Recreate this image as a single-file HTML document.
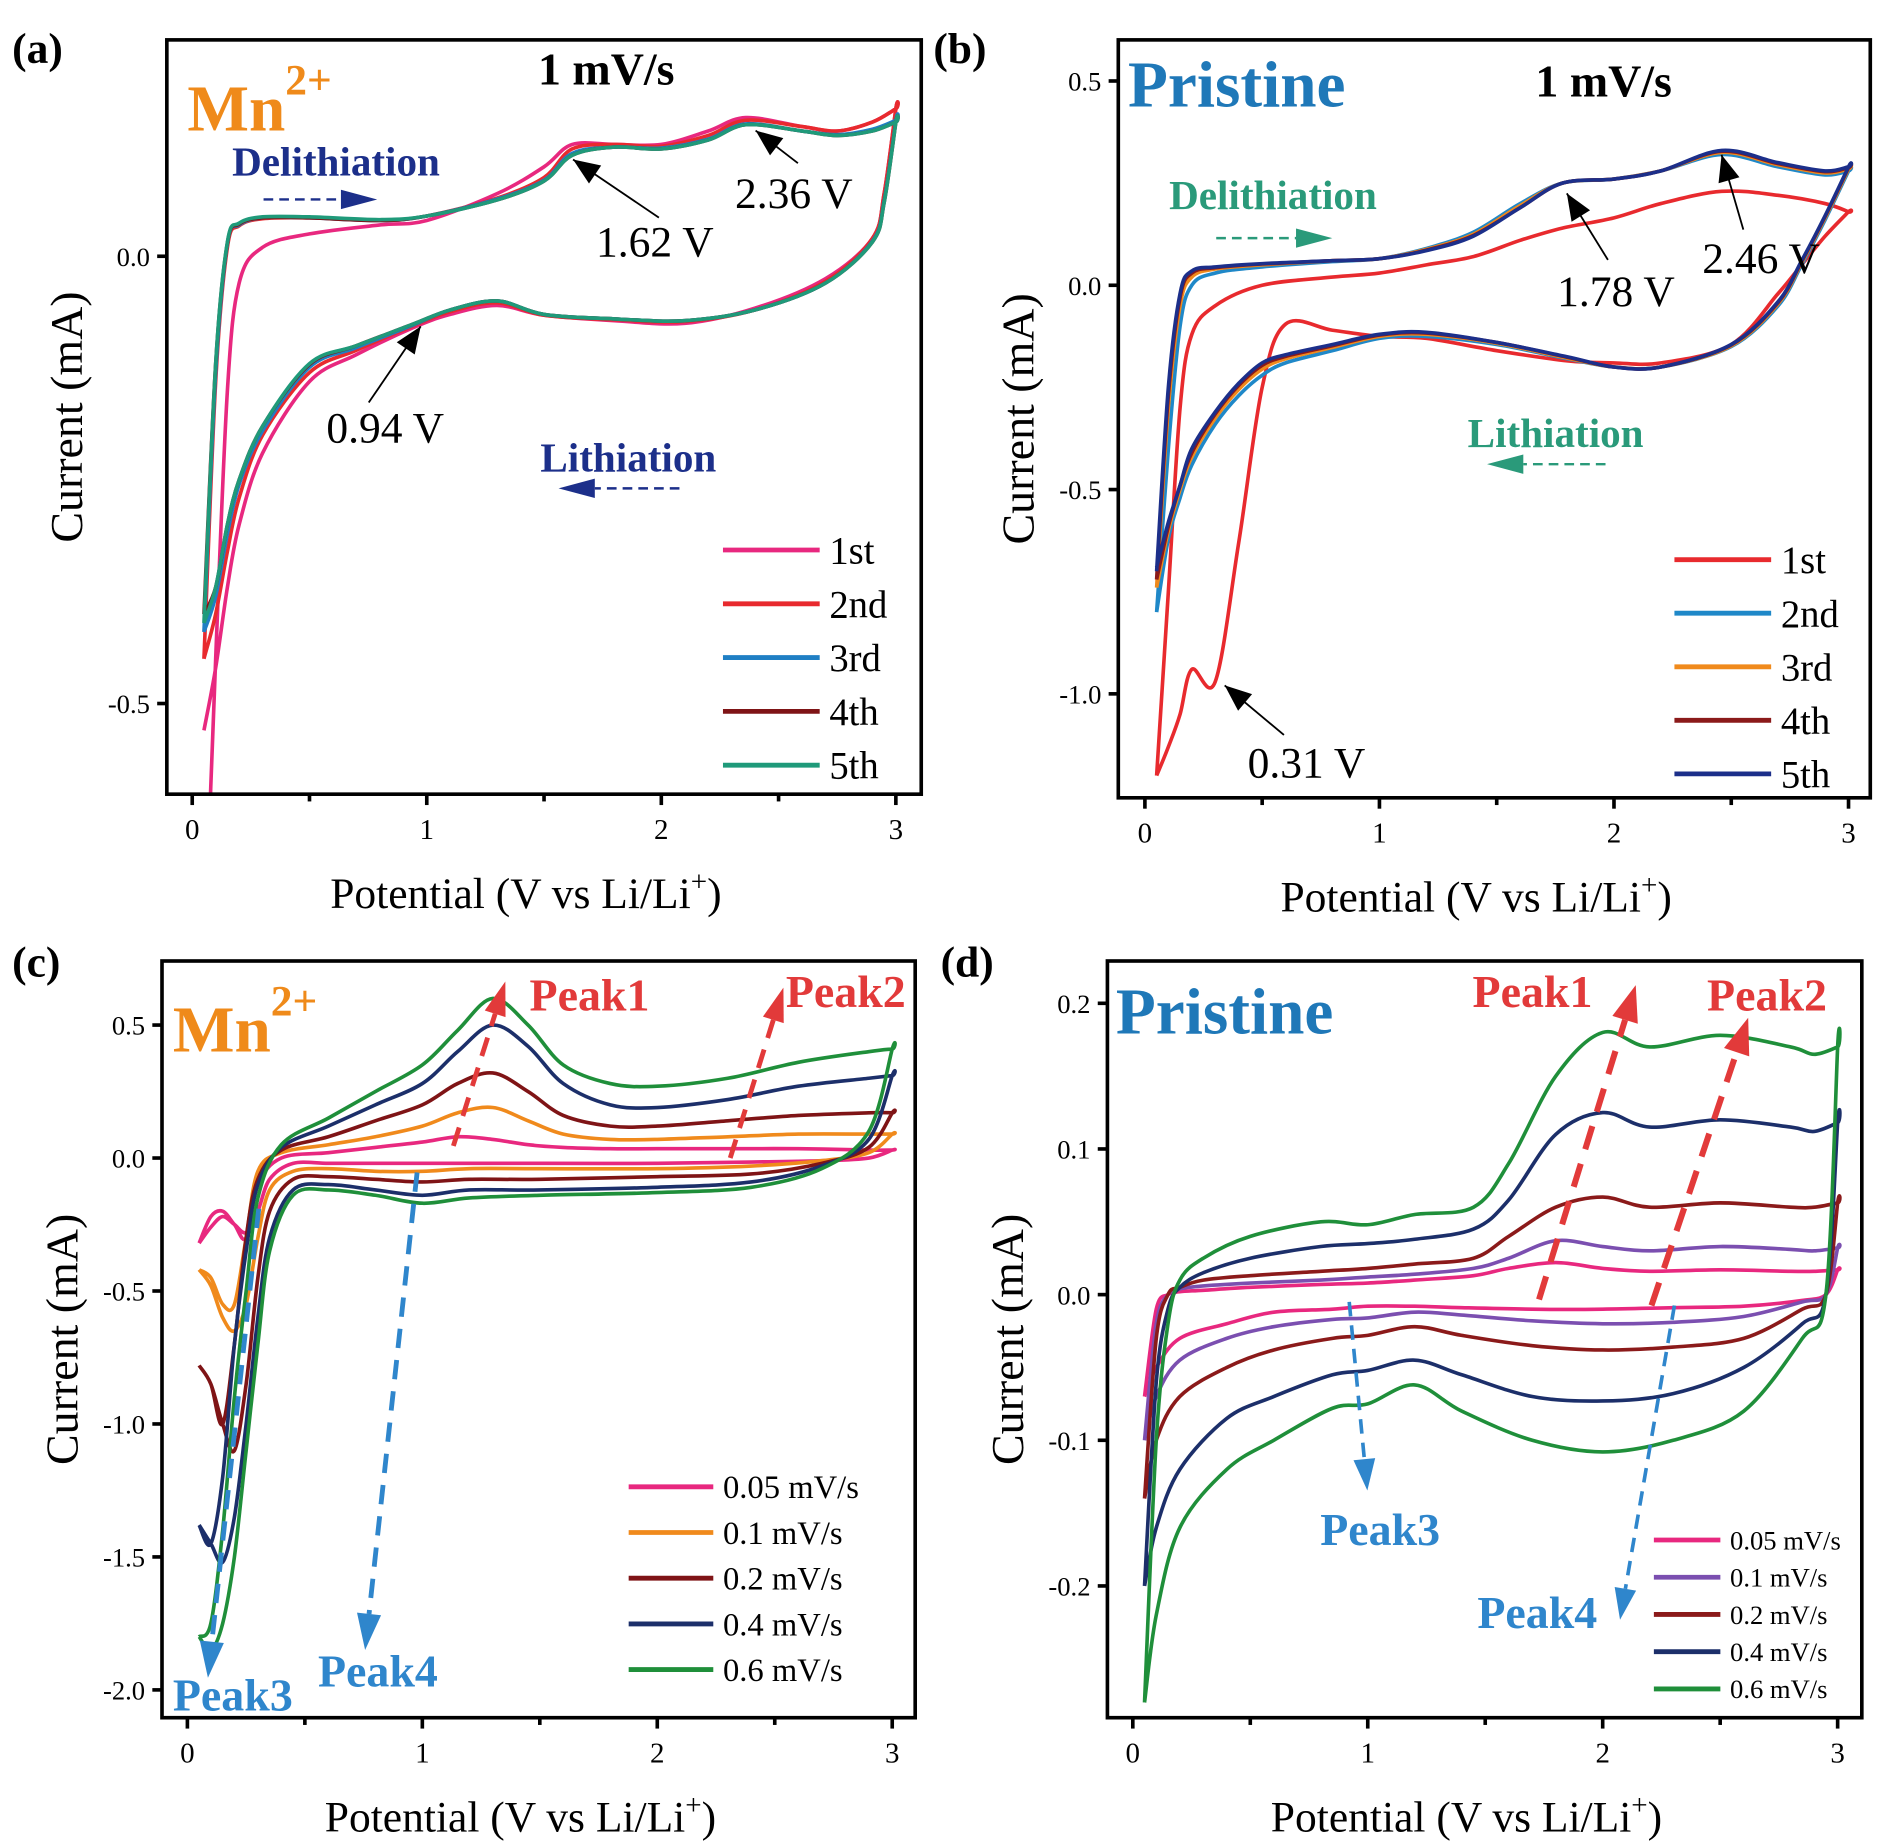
<!DOCTYPE html>
<html><head><meta charset="utf-8"><style>
html,body{margin:0;padding:0;background:#fff;}
svg{display:block;font-family:"Liberation Serif","Times New Roman",serif;}
svg text{font-family:"Liberation Serif","Times New Roman",serif;}
</style></head><body>
<svg id="fig" width="1886" height="1841" viewBox="0 0 1560 1523" preserveAspectRatio="none" xmlns="http://www.w3.org/2000/svg" font-family="Liberation Serif, Times New Roman, serif">
<g id="root" font-family="Liberation Serif, Times New Roman, serif"></g>
</svg>
<script>
// ---------- Panel (a) data ----------
const aVUp=[0.05,0.1,0.15,0.2,0.3,0.5,0.8,1.0,1.3,1.5,1.62,1.8,2.0,2.2,2.36,2.6,2.75,2.9,3.0];
const aVDown=[3.0,2.95,2.9,2.7,2.4,2.1,1.8,1.5,1.3,1.1,0.94,0.7,0.5,0.3,0.2,0.15,0.1,0.05];
const aNames=["1st","2nd","3rd","4th","5th"];
const aUp1=[-0.8,-0.45,-0.15,-0.03,0.01,0.025,0.035,0.04,0.07,0.1,0.125,0.125,0.125,0.14,0.155,0.145,0.14,0.15,0.165];
const aDn1=[0.165,0.07,0.02,-0.025,-0.058,-0.075,-0.072,-0.066,-0.055,-0.065,-0.08,-0.11,-0.14,-0.22,-0.3,-0.37,-0.46,-0.53];
const aUp2=[-0.45,-0.14,0.01,0.034,0.042,0.043,0.04,0.045,0.065,0.088,0.12,0.125,0.123,0.135,0.152,0.145,0.14,0.15,0.165];
const aDn2=[0.165,0.07,0.02,-0.028,-0.06,-0.073,-0.071,-0.066,-0.052,-0.062,-0.078,-0.105,-0.13,-0.2,-0.27,-0.33,-0.4,-0.45];
const aUp3=[-0.42,-0.13,0.014,0.035,0.043,0.043,0.04,0.045,0.064,0.085,0.115,0.122,0.121,0.131,0.148,0.14,0.136,0.142,0.152];
const aDn3=[0.152,0.062,0.017,-0.03,-0.06,-0.072,-0.07,-0.065,-0.05,-0.06,-0.077,-0.102,-0.124,-0.195,-0.255,-0.31,-0.38,-0.42];
const aUp4=[-0.4,-0.12,0.015,0.036,0.043,0.043,0.04,0.045,0.063,0.084,0.113,0.122,0.12,0.13,0.147,0.14,0.135,0.14,0.15];
const aDn4=[0.15,0.06,0.016,-0.03,-0.06,-0.072,-0.07,-0.065,-0.05,-0.06,-0.076,-0.1,-0.121,-0.19,-0.25,-0.3,-0.37,-0.4];
const aUp5=[-0.41,-0.12,0.016,0.037,0.044,0.044,0.041,0.045,0.063,0.084,0.113,0.122,0.12,0.13,0.147,0.14,0.135,0.14,0.15];
const aDn5=[0.15,0.06,0.016,-0.03,-0.06,-0.072,-0.07,-0.065,-0.05,-0.06,-0.076,-0.1,-0.12,-0.19,-0.25,-0.3,-0.37,-0.41];
const aYTicks=[0.0,-0.5];
// ---------- Panel (b) data ----------
const bVUp=[0.05,0.1,0.15,0.2,0.3,0.5,0.8,1.0,1.2,1.4,1.6,1.78,2.0,2.2,2.46,2.7,2.9,3.0];
const bVDown=[3.0,2.9,2.8,2.7,2.5,2.2,2.0,1.8,1.5,1.2,1.0,0.8,0.6,0.5,0.4,0.3,0.2,0.15,0.1,0.05];
const bNames=["1st","2nd","3rd","4th","5th"];
const bUp1=[-1.2,-0.75,-0.3,-0.12,-0.05,0.0,0.02,0.03,0.05,0.07,0.11,0.14,0.165,0.2,0.23,0.22,0.2,0.18];
const bDn1=[0.18,0.12,0.05,-0.02,-0.145,-0.19,-0.19,-0.185,-0.16,-0.13,-0.125,-0.11,-0.095,-0.25,-0.63,-0.97,-0.94,-1.05,-1.13,-1.2];
const bUp2=[-0.8,-0.4,-0.1,0.0,0.03,0.045,0.058,0.065,0.09,0.13,0.2,0.25,0.26,0.28,0.32,0.29,0.27,0.28];
const bDn2=[0.28,0.16,0.05,-0.05,-0.15,-0.2,-0.2,-0.18,-0.145,-0.125,-0.13,-0.16,-0.19,-0.22,-0.27,-0.34,-0.44,-0.52,-0.62,-0.8];
const bUp3=[-0.74,-0.3,-0.05,0.02,0.04,0.05,0.06,0.065,0.088,0.125,0.195,0.25,0.26,0.28,0.325,0.295,0.275,0.285];
const bDn3=[0.285,0.165,0.055,-0.045,-0.148,-0.2,-0.2,-0.178,-0.142,-0.12,-0.125,-0.152,-0.18,-0.205,-0.255,-0.325,-0.42,-0.5,-0.6,-0.74];
const bUp4=[-0.72,-0.27,-0.03,0.03,0.043,0.052,0.06,0.065,0.086,0.122,0.19,0.25,0.26,0.28,0.328,0.298,0.278,0.288];
const bDn4=[0.288,0.168,0.058,-0.042,-0.146,-0.2,-0.2,-0.176,-0.14,-0.117,-0.122,-0.148,-0.174,-0.196,-0.245,-0.315,-0.41,-0.49,-0.59,-0.72];
const bUp5=[-0.7,-0.25,-0.02,0.035,0.045,0.053,0.06,0.065,0.085,0.12,0.19,0.25,0.26,0.28,0.33,0.3,0.28,0.29];
const bDn5=[0.29,0.17,0.06,-0.04,-0.145,-0.2,-0.2,-0.175,-0.14,-0.115,-0.12,-0.145,-0.17,-0.19,-0.24,-0.31,-0.4,-0.49,-0.58,-0.69];
const bYTicks=[0.5,0.0,-0.5,-1.0];
// ---------- Panel (c) data ----------
const cVUp=[0.05,0.1,0.15,0.2,0.25,0.3,0.4,0.6,0.8,1.0,1.15,1.3,1.45,1.6,1.8,2.0,2.3,2.6,2.9,3.0];
const cVDown=[3.0,2.9,2.7,2.4,2.0,1.5,1.2,1.0,0.8,0.6,0.45,0.35,0.3,0.25,0.2,0.15,0.1,0.05];
const cNames=["0.05 mV/s","0.1 mV/s","0.2 mV/s","0.4 mV/s","0.6 mV/s"];
const cUp1=[-0.32,-0.22,-0.2,-0.25,-0.3,-0.1,0.0,0.02,0.04,0.06,0.08,0.07,0.05,0.04,0.035,0.035,0.035,0.035,0.03,0.03];
const cDn1=[0.03,0.0,-0.01,-0.015,-0.02,-0.02,-0.02,-0.02,-0.02,-0.02,-0.02,-0.08,-0.2,-0.28,-0.25,-0.22,-0.26,-0.32];
const cUp2=[-0.42,-0.45,-0.55,-0.55,-0.3,-0.05,0.02,0.05,0.08,0.12,0.17,0.19,0.14,0.09,0.07,0.07,0.08,0.09,0.09,0.09];
const cDn2=[0.09,0.02,-0.01,-0.03,-0.04,-0.04,-0.04,-0.05,-0.05,-0.04,-0.05,-0.12,-0.3,-0.55,-0.65,-0.6,-0.48,-0.42];
const cUp3=[-0.78,-0.85,-1.0,-0.7,-0.3,-0.08,0.03,0.08,0.14,0.2,0.28,0.32,0.25,0.16,0.12,0.12,0.14,0.16,0.17,0.17];
const cDn3=[0.17,0.04,-0.02,-0.06,-0.07,-0.08,-0.08,-0.09,-0.08,-0.07,-0.08,-0.2,-0.45,-0.85,-1.1,-1.0,-0.85,-0.78];
const cUp4=[-1.38,-1.45,-1.2,-0.7,-0.35,-0.1,0.04,0.12,0.2,0.28,0.4,0.5,0.42,0.28,0.2,0.19,0.22,0.27,0.3,0.31];
const cDn4=[0.31,0.07,-0.03,-0.09,-0.11,-0.12,-0.12,-0.14,-0.12,-0.1,-0.12,-0.3,-0.6,-1.0,-1.35,-1.52,-1.45,-1.38];
const cUp5=[-1.8,-1.75,-1.4,-0.9,-0.5,-0.15,0.05,0.15,0.25,0.35,0.48,0.6,0.5,0.35,0.28,0.27,0.3,0.36,0.4,0.41];
const cDn5=[0.41,0.1,-0.04,-0.11,-0.13,-0.14,-0.15,-0.17,-0.14,-0.12,-0.14,-0.35,-0.7,-1.1,-1.5,-1.75,-1.85,-1.8];
const cYTicks=[0.5,0.0,-0.5,-1.0,-1.5,-2.0];
// ---------- Panel (d) data ----------
const dVUp=[0.05,0.1,0.15,0.2,0.3,0.5,0.8,1.0,1.2,1.45,1.6,1.8,2.0,2.2,2.5,2.8,2.9,3.0];
const dVDown=[3.0,2.95,2.85,2.6,2.3,2.0,1.7,1.4,1.2,1.0,0.85,0.6,0.4,0.2,0.1,0.05];
const dNames=["0.05 mV/s","0.1 mV/s","0.2 mV/s","0.4 mV/s","0.6 mV/s"];
const dUp1=[-0.07,-0.01,0.0,0.002,0.003,0.005,0.007,0.008,0.01,0.013,0.018,0.022,0.018,0.016,0.017,0.016,0.016,0.017];
const dDn1=[0.017,0.0,-0.004,-0.008,-0.009,-0.01,-0.01,-0.009,-0.008,-0.008,-0.01,-0.012,-0.02,-0.03,-0.05,-0.07];
const dUp2=[-0.1,-0.02,0.0,0.004,0.006,0.008,0.01,0.012,0.014,0.018,0.025,0.037,0.033,0.03,0.033,0.031,0.03,0.032];
const dDn2=[0.032,0.0,-0.005,-0.015,-0.019,-0.02,-0.018,-0.014,-0.012,-0.016,-0.017,-0.022,-0.03,-0.045,-0.07,-0.1];
const dUp3=[-0.14,-0.03,0.0,0.005,0.01,0.013,0.016,0.018,0.021,0.025,0.04,0.06,0.067,0.06,0.063,0.06,0.06,0.063];
const dDn3=[0.063,0.0,-0.01,-0.03,-0.036,-0.038,-0.035,-0.028,-0.022,-0.028,-0.03,-0.038,-0.05,-0.07,-0.1,-0.14];
const dUp4=[-0.2,-0.06,-0.01,0.005,0.015,0.025,0.033,0.035,0.038,0.045,0.065,0.11,0.125,0.115,0.12,0.115,0.112,0.118];
const dDn4=[0.118,0.0,-0.02,-0.05,-0.068,-0.073,-0.07,-0.055,-0.045,-0.052,-0.055,-0.07,-0.085,-0.12,-0.16,-0.2];
const dUp5=[-0.28,-0.1,-0.02,0.01,0.025,0.04,0.05,0.048,0.055,0.06,0.09,0.15,0.18,0.17,0.178,0.17,0.165,0.17];
const dDn5=[0.17,0.0,-0.03,-0.08,-0.1,-0.108,-0.1,-0.08,-0.062,-0.075,-0.078,-0.1,-0.12,-0.16,-0.22,-0.28];
const dYTicks=[0.2,0.1,0.0,-0.1,-0.2];
const xTicks=[0,1,2,3];

const NS="http://www.w3.org/2000/svg";
const FF='Liberation Serif, Times New Roman, serif';
const root=document.getElementById('root');
function el(tag,attrs,parent,txt){const e=document.createElementNS(NS,tag);for(const k in attrs)e.setAttribute(k,attrs[k]);if(tag==='text')e.setAttribute('font-family',FF);if(txt!==undefined)e.textContent=txt;(parent||root).appendChild(e);return e;}
function smooth(pts){let d="M"+pts[0][0].toFixed(1)+","+pts[0][1].toFixed(1);for(let i=0;i<pts.length-1;i++){const p0=pts[i-1]||pts[i],p1=pts[i],p2=pts[i+1],p3=pts[i+2]||p2;const c1=[p1[0]+(p2[0]-p0[0])/6,p1[1]+(p2[1]-p0[1])/6],c2=[p2[0]-(p3[0]-p1[0])/6,p2[1]-(p3[1]-p1[1])/6];d+=" C"+c1[0].toFixed(1)+","+c1[1].toFixed(1)+" "+c2[0].toFixed(1)+","+c2[1].toFixed(1)+" "+p2[0].toFixed(1)+","+p2[1].toFixed(1);}return d;}

function panel(cfg){
  const g=el('g',{});
  
  
  const xs=v=>cfg.x0+(v/3)*(cfg.x3-cfg.x0);
  const ys=v=>cfg.yz+(v-cfg.yv1)*(cfg.yz2-cfg.yz)/(cfg.yv2-cfg.yv1);
  const cid='clip'+cfg.id;
  const cp=el('clipPath',{id:cid},g);el('rect',{x:cfg.L,y:cfg.T,width:cfg.R-cfg.L,height:cfg.B-cfg.T},cp);
  const sg=el('g',{'clip-path':'url(#'+cid+')'},g);
  cfg.series.forEach((s,i)=>{
    const pts=cfg.vUp.map((v,j)=>[xs(v),ys(s.up[j])]).concat(cfg.vDown.map((v,j)=>[xs(v),ys(s.dn[j])]));
    const p=el('path',{d:smooth(pts),fill:'none',stroke:s.c,'stroke-width':3,'stroke-linejoin':'round'},sg);
    
    
  });
  const fr=el('rect',{x:cfg.L,y:cfg.T,width:cfg.R-cfg.L,height:cfg.B-cfg.T,fill:'none',stroke:'#000','stroke-width':3},g);
  
  
  xTicks.forEach(t=>{
    el('line',{x1:xs(t),x2:xs(t),y1:cfg.B,y2:cfg.B+9,stroke:'#000','stroke-width':3},g);
    if(t<3)el('line',{x1:xs(t+0.5),x2:xs(t+0.5),y1:cfg.B,y2:cfg.B+6,stroke:'#000','stroke-width':3},g);
    const tx=el('text',{x:xs(t),y:cfg.B+37,'font-size':24,'text-anchor':'middle'},g,String(t));
    
    
  });
  cfg.yTicks.forEach(t=>{
    el('line',{x1:cfg.L-8,x2:cfg.L,y1:ys(t),y2:ys(t),stroke:'#000','stroke-width':3},g);
    const tx=el('text',{x:cfg.L-14,y:ys(t)+8,'font-size':22,'text-anchor':'end'},g,t.toFixed(1));
    
    
  });
  const xt=el('text',{x:(cfg.L+cfg.R)/2-15,y:cfg.B+94,'font-size':36,'text-anchor':'middle'},g);
  
  
  xt.innerHTML='Potential (V vs Li/Li<tspan dy="-14" font-size="24">+</tspan><tspan dy="14">)</tspan>';
  const yt=el('text',{x:0,y:0,'font-size':38,'text-anchor':'middle',transform:'translate('+(cfg.L-70)+','+((cfg.T+cfg.B)/2)+') rotate(-90)'},g,'Current (mA)');
  
  
  cfg.names.forEach((n,i)=>{
    const y=cfg.lg.y+i*cfg.lg.dy;
    const le=el('g',{},g);
    
    
    el('line',{x1:cfg.lg.x1,x2:cfg.lg.x2,y1:y,y2:y,stroke:cfg.series[i].c,'stroke-width':4},le);
    el('text',{x:cfg.lg.x2+8,y:y+cfg.lg.fs*0.35,'font-size':cfg.lg.fs},le,n);
  });
  return g;
}
panel({name:'panel-a',id:'a',L:138,T:33,R:762,B:657,x0:159,x3:741,yz:212,yv1:0,yz2:582,yv2:-0.5,yTicks:aYTicks,vUp:aVUp,vDown:aVDown,names:aNames,
 series:[{up:aUp1,dn:aDn1,c:'#e8287f'},{up:aUp2,dn:aDn2,c:'#e82a2e'},{up:aUp3,dn:aDn3,c:'#1f7fc4'},{up:aUp4,dn:aDn4,c:'#7f1416'},{up:aUp5,dn:aDn5,c:'#1f9a7a'}],
 lg:{x1:598,x2:678,y:455,dy:44.5,fs:32}});
panel({name:'panel-b',id:'b',L:925,T:33,R:1547,B:660,x0:947,x3:1529,yz:236,yv1:0,yz2:574,yv2:-1.0,yTicks:bYTicks,vUp:bVUp,vDown:bVDown,names:bNames,
 series:[{up:bUp1,dn:bDn1,c:'#e82a2e'},{up:bUp2,dn:bDn2,c:'#1f88c8'},{up:bUp3,dn:bDn3,c:'#f08a1c'},{up:bUp4,dn:bDn4,c:'#8b1a1a'},{up:bUp5,dn:bDn5,c:'#1c2f8a'}],
 lg:{x1:1385,x2:1465,y:463,dy:44.3,fs:32}});
panel({name:'panel-c',id:'c',L:134,T:795,R:757,B:1421,x0:155,x3:738,yz:958,yv1:0,yz2:1398,yv2:-2.0,yTicks:cYTicks,vUp:cVUp,vDown:cVDown,names:cNames,
 series:[{up:cUp1,dn:cDn1,c:'#e8287f'},{up:cUp2,dn:cDn2,c:'#f08a1c'},{up:cUp3,dn:cDn3,c:'#7f1416'},{up:cUp4,dn:cDn4,c:'#1c2f6a'},{up:cUp5,dn:cDn5,c:'#1f8f3a'}],
 lg:{x1:520,x2:590,y:1230,dy:37.8,fs:27}});
panel({name:'panel-d',id:'d',L:916,T:795,R:1540,B:1421,x0:937,x3:1520,yz:1071,yv1:0,yz2:1312,yv2:-0.2,yTicks:dYTicks,vUp:dVUp,vDown:dVDown,names:dNames,
 series:[{up:dUp1,dn:dDn1,c:'#e8287f'},{up:dUp2,dn:dDn2,c:'#7b4fb0'},{up:dUp3,dn:dDn3,c:'#8b1a1a'},{up:dUp4,dn:dDn4,c:'#1c2f6a'},{up:dUp5,dn:dDn5,c:'#1f8f3a'}],
 lg:{x1:1368,x2:1423,y:1274,dy:30.8,fs:22}});

function txt(x,y,s,attrs,name){const a=Object.assign({x:x,y:y},attrs);const t=el('text',a);t.innerHTML=s;return t;}
function arrow(x1,y1,x2,y2,name){const l=el('line',{x1:x1,y1:y1,x2:x2,y2:y2,stroke:'#000','stroke-width':1.5});
 const ang=Math.atan2(y2-y1,x2-x1),L=22,W=9;const p=[[x2,y2],[x2-L*Math.cos(ang)+W*Math.sin(ang),y2-L*Math.sin(ang)-W*Math.cos(ang)],[x2-L*Math.cos(ang)-W*Math.sin(ang),y2-L*Math.sin(ang)+W*Math.cos(ang)]];
 el('polygon',{points:p.map(q=>q.join(',')).join(' '),fill:'#000'});}
function dashArrow(x1,y1,x2,y2,col,w,name,L,W){const ang=Math.atan2(y2-y1,x2-x1);const bx=x2-L*Math.cos(ang),by=y2-L*Math.sin(ang);
 const g=el('g',{});
 el('line',{x1:x1,y1:y1,x2:bx,y2:by,stroke:col,'stroke-width':w,'stroke-dasharray':(w*4)+','+(w*2.5)},g);
 const p=[[x2,y2],[bx+W*Math.sin(ang),by-W*Math.cos(ang)],[bx-W*Math.sin(ang),by+W*Math.cos(ang)]];
 el('polygon',{points:p.map(q=>q.join(',')).join(' '),fill:col},g);}
txt(10,52,'(a)',{'font-size':36,'font-weight':'bold'},'panel-label-a');
txt(772,52,'(b)',{'font-size':36,'font-weight':'bold'},'panel-label-b');
txt(10,808,'(c)',{'font-size':36,'font-weight':'bold'},'panel-label-c');
txt(778,808,'(d)',{'font-size':36,'font-weight':'bold'},'panel-label-d');
txt(155,108,'Mn<tspan dy="-30" font-size="36">2+</tspan>',{'font-size':54,'font-weight':'bold',fill:'#ef8a1a'},'mn2-label-a');
txt(445,70,'1 mV/s',{'font-size':38,'font-weight':'bold'},'scan-rate-label-a');
txt(192,145,'Delithiation',{'font-size':34,'font-weight':'bold',fill:'#1c2f8a'},'delithiation-label-a');
dashArrow(218,165,312,165,'#1c2f8a',2,'delithiation-arrow-a',30,8);
txt(447,390,'Lithiation',{'font-size':34,'font-weight':'bold',fill:'#1c2f8a'},'lithiation-label-a');
dashArrow(562,404,462,404,'#1c2f8a',2,'lithiation-arrow-a',30,8);
txt(270,366,'0.94 V',{'font-size':36},'peak-label-094');arrow(305,333,348,270,'peak-arrow-094');
txt(493,212,'1.62 V',{'font-size':36},'peak-label-162');arrow(545,180,474,132,'peak-arrow-162');
txt(608,172,'2.36 V',{'font-size':36},'peak-label-236');arrow(660,135,625,108,'peak-arrow-236');
txt(933,88,'Pristine',{'font-size':54,'font-weight':'bold',fill:'#1f78b8'},'pristine-label-b');
txt(1270,80,'1 mV/s',{'font-size':38,'font-weight':'bold'},'scan-rate-label-b');
txt(967,173,'Delithiation',{'font-size':34,'font-weight':'bold',fill:'#2a9a7a'},'delithiation-label-b');
dashArrow(1006,197,1102,197,'#2a9a7a',2,'delithiation-arrow-b',30,8);
txt(1214,370,'Lithiation',{'font-size':34,'font-weight':'bold',fill:'#2a9a7a'},'lithiation-label-b');
dashArrow(1328,384,1230,384,'#2a9a7a',2,'lithiation-arrow-b',30,8);
txt(1288,253,'1.78 V',{'font-size':36},'peak-label-178');arrow(1330,215,1296,160,'peak-arrow-178');
txt(1408,226,'2.46 V',{'font-size':36},'peak-label-246');arrow(1442,190,1424,128,'peak-arrow-246');
txt(1032,643,'0.31 V',{'font-size':36},'peak-label-031');arrow(1062,608,1013,567,'peak-arrow-031');
txt(143,870,'Mn<tspan dy="-30" font-size="36">2+</tspan>',{'font-size':54,'font-weight':'bold',fill:'#ef8a1a'},'mn2-label-c');
txt(438,836,'Peak1',{'font-size':38,'font-weight':'bold',fill:'#e23a3a'},'peak1-label-c');
txt(650,833,'Peak2',{'font-size':38,'font-weight':'bold',fill:'#e23a3a'},'peak2-label-c');
txt(143,1415,'Peak3',{'font-size':38,'font-weight':'bold',fill:'#2f86cc'},'peak3-label-c');
txt(263,1395,'Peak4',{'font-size':38,'font-weight':'bold',fill:'#2f86cc'},'peak4-label-c');
dashArrow(375,948,418,812,'#e23a3a',4,'peak1-arrow-c',28,9);
dashArrow(604,958,648,817,'#e23a3a',4,'peak2-arrow-c',28,9);
dashArrow(214,1000,172,1388,'#2f86cc',4,'peak3-arrow-c',30,10);
dashArrow(345,970,302,1365,'#2f86cc',4,'peak4-arrow-c',30,10);
txt(923,855,'Pristine',{'font-size':54,'font-weight':'bold',fill:'#1f78b8'},'pristine-label-d');
txt(1218,833,'Peak1',{'font-size':38,'font-weight':'bold',fill:'#e23a3a'},'peak1-label-d');
txt(1412,836,'Peak2',{'font-size':38,'font-weight':'bold',fill:'#e23a3a'},'peak2-label-d');
txt(1092,1278,'Peak3',{'font-size':38,'font-weight':'bold',fill:'#2f86cc'},'peak3-label-d');
txt(1222,1347,'Peak4',{'font-size':38,'font-weight':'bold',fill:'#2f86cc'},'peak4-label-d');
dashArrow(1273,1075,1353,815,'#e23a3a',5,'peak1-arrow-d',30,11);
dashArrow(1366,1080,1446,842,'#e23a3a',5,'peak2-arrow-d',30,11);
dashArrow(1116,1077,1131,1233,'#2f86cc',3,'peak3-arrow-d',26,9);
dashArrow(1385,1080,1340,1340,'#2f86cc',3,'peak4-arrow-d',26,9);
</script>
</body></html>
